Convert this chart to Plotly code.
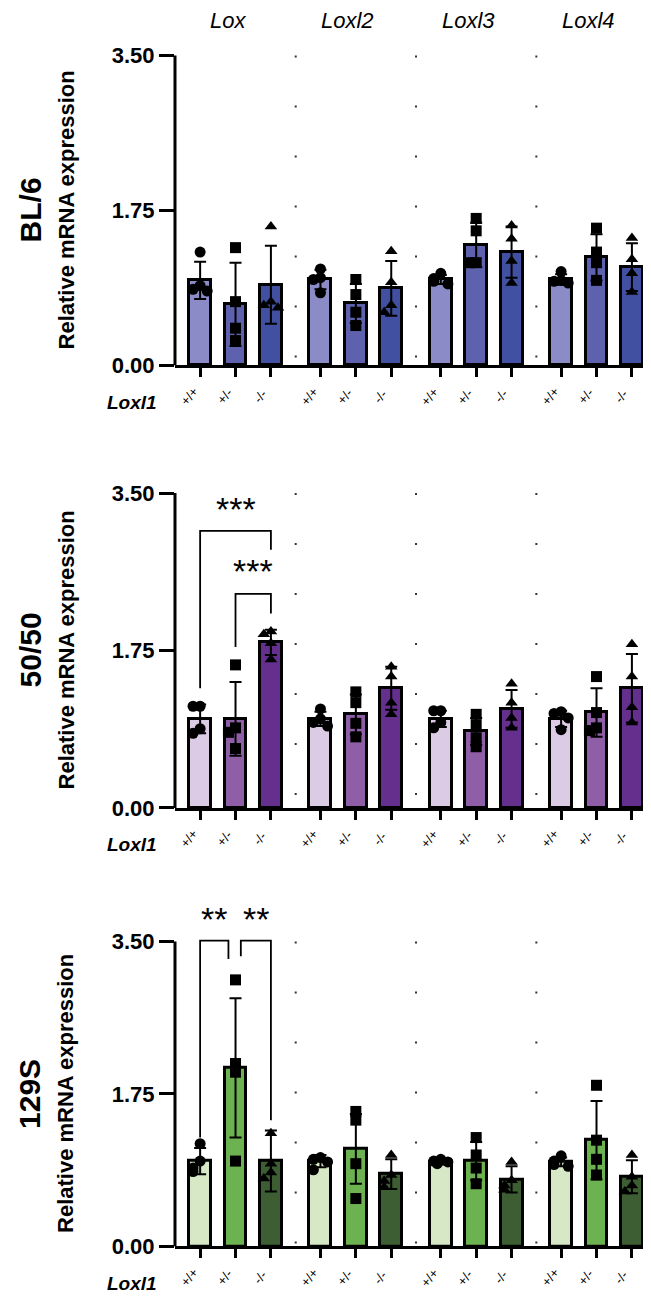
import plotly.graph_objects as go

# ---------------- data ----------------
genes = ["Lox", "Loxl2", "Loxl3", "Loxl4"]
genotypes = ["+/+", "+/-", "-/-"]
strains = ["BL/6", "50/50", "129S"]
y_ticks = [0.0, 1.75, 3.5]
y_ticktext = ["0.00", "1.75", "3.50"]

# order: Lox(+/+,+/-,-/-), Loxl2(...), Loxl3(...), Loxl4(...)
bl6_mean = [0.96, 0.69, 0.91, 0.97, 0.70, 0.87, 0.97, 1.36, 1.28, 0.97, 1.22, 1.11]
bl6_sd = [0.21, 0.47, 0.44, 0.11, 0.22, 0.31, 0.05, 0.25, 0.29, 0.06, 0.26, 0.27]
bl6_points = [
    [1.28, 0.90, 0.86, 0.84], [1.33, 0.72, 0.42, 0.28], [1.57, 0.72, 0.68, 0.65],
    [1.09, 0.99, 0.97, 0.82], [0.97, 0.80, 0.60, 0.45], [1.29, 0.94, 0.68, 0.60],
    [1.04, 0.98, 0.95, 0.92], [1.66, 1.52, 1.16, 1.16], [1.58, 1.43, 1.18, 0.93],
    [1.06, 0.96, 0.95, 0.93], [1.55, 1.28, 1.16, 0.96], [1.44, 1.20, 1.04, 0.83],
]

mix_mean = [0.99, 0.99, 1.84, 0.99, 1.04, 1.33, 0.99, 0.85, 1.10, 0.99, 1.06, 1.33]
mix_sd = [0.16, 0.41, 0.14, 0.08, 0.22, 0.24, 0.09, 0.15, 0.21, 0.09, 0.27, 0.38]
mix_points = [
    [1.13, 1.13, 0.88, 0.83], [1.59, 0.89, 0.84, 0.66], [1.96, 1.93, 1.83, 1.65],
    [1.10, 0.99, 0.95, 0.91], [1.29, 1.17, 0.94, 0.79], [1.57, 1.46, 1.17, 1.04],
    [1.08, 1.08, 0.95, 0.89], [1.04, 0.92, 0.78, 0.68], [1.38, 1.17, 1.00, 0.89],
    [1.07, 1.05, 1.00, 0.87], [1.46, 1.06, 0.89, 0.86], [1.82, 1.46, 1.12, 0.95],
]

s129_mean = [0.98, 2.05, 0.98, 0.98, 1.12, 0.83, 0.97, 0.98, 0.77, 0.97, 1.22, 0.80]
s129_sd = [0.15, 0.80, 0.35, 0.07, 0.40, 0.17, 0.03, 0.22, 0.15, 0.05, 0.45, 0.19]
s129_points = [
    [1.18, 0.98, 0.90, 0.86], [3.06, 2.10, 2.00, 0.98], [1.30, 0.95, 0.85, 0.78],
    [1.02, 1.00, 0.97, 0.88], [1.55, 1.45, 0.95, 0.55], [1.05, 0.82, 0.75, 0.68],
    [1.00, 0.98, 0.97, 0.95], [1.25, 1.05, 0.90, 0.72], [0.97, 0.76, 0.70, 0.65],
    [1.04, 0.98, 0.94, 0.92], [1.85, 1.22, 1.00, 0.82], [1.05, 0.80, 0.70, 0.63],
]

# significance brackets (positions within the Lox group)
mix_sig = [
    dict(x0=0, x1=2, y=3.08, e0=1.33, e1=2.87, label="***", ly=3.29),
    dict(x0=1, x1=2, y=2.38, e0=1.79, e1=2.16, label="***", ly=2.60),
]
s129_sig = [
    dict(x0=0, x1=0.8, y=3.51, e0=1.25, e1=3.30, label="**", ly=3.73),
    dict(x0=1.15, x1=2, y=3.51, e0=3.33, e1=1.45, label="**", ly=3.73),
]

panels = [
    dict(mean=bl6_mean, sd=bl6_sd, pts=bl6_points, sig=[],
         colors=["#8b8cc7", "#5e61ae", "#4150a0"]),
    dict(mean=mix_mean, sd=mix_sd, pts=mix_points, sig=mix_sig,
         colors=["#dccbe4", "#8e5ea6", "#652f8e"]),
    dict(mean=s129_mean, sd=s129_sd, pts=s129_points, sig=s129_sig,
         colors=["#d6e8c6", "#6cb250", "#3c5e32"]),
]

# ---------------- layout geometry ----------------
W, H = 651, 1296
FONT = "Arial, Liberation Sans, sans-serif"
GROUP_STEP = 3.4
positions = [g * GROUP_STEP + b for g in range(len(genes)) for b in range(3)]
X_RANGE = [-0.71, 12.57]
X_DOMAIN = [167 / W, 637 / W]
YMAX = 3.9
panel_px = [(361, 48), (808, 490), (1251, 943)]  # pixel rows of 0.00 and 3.50
symbols = ["circle", "square", "triangle-up"]
jit = [0, -0.2, 0.2, -0.1, 0.1]

fig = go.Figure()
shapes = []
annotations = []

for i, p in enumerate(panels):
    sfx = "" if i == 0 else str(i + 1)
    xa, ya = "x" + sfx, "y" + sfx
    y0px, y35px = panel_px[i]
    s = (y0px - y35px) / 3.5
    top = y0px - YMAX * s
    ydom = [(H - y0px) / H, (H - top) / H]

    for b in range(3):
        idx = [g * 3 + b for g in range(len(genes))]
        fig.add_trace(go.Bar(
            x=[positions[k] for k in idx], y=[p["mean"][k] for k in idx],
            width=0.62, marker=dict(color=p["colors"][b], line=dict(color="black", width=3)),
            error_y=dict(type="data", array=[p["sd"][k] for k in idx], color="black",
                         thickness=2, width=6),
            xaxis=xa, yaxis=ya, showlegend=False))
        px_, py_ = [], []
        for k in idx:
            pts = p["pts"][k]
            for j, v in enumerate(pts):
                near = sum(1 for q in pts[:j] if abs(q - v) < 0.09)
                px_.append(positions[k] + jit[min(near, 4)])
                py_.append(v)
        fig.add_trace(go.Scatter(
            x=px_, y=py_, mode="markers",
            marker=dict(symbol=symbols[b], color="black", size=11),
            xaxis=xa, yaxis=ya, showlegend=False, cliponaxis=False))

    fig.update_layout(**{
        ("xaxis" + sfx): dict(domain=X_DOMAIN, range=X_RANGE, anchor=ya,
                              showline=True, linewidth=3, linecolor="black",
                              ticks="outside", ticklen=9, tickwidth=3, tickcolor="black",
                              tickvals=positions, showticklabels=False,
                              showgrid=False, zeroline=False, fixedrange=True),
        ("yaxis" + sfx): dict(domain=ydom, range=[0, YMAX], anchor=xa,
                              showline=False, ticks="outside", ticklen=15, tickwidth=3,
                              tickcolor="black", tickvals=y_ticks, ticktext=y_ticktext,
                              tickfont=dict(size=22, color="black", family=FONT, weight="bold"),
                              showgrid=False, zeroline=False, fixedrange=True),
    })

    # genotype tick labels (rotated, offset below the ticks)
    for k, xv in enumerate(positions):
        annotations.append(dict(xref=xa, yref=ya, x=xv, y=0, xshift=-11, yshift=-31,
                                text=genotypes[k % 3], textangle=-50, showarrow=False,
                                xanchor="center", yanchor="middle",
                                font=dict(size=13, color="black", family=FONT)))

    # y axis line up to 3.50
    shapes.append(dict(type="line", xref=xa + " domain", yref=ya, x0=0, x1=0, y0=0, y1=3.5,
                       line=dict(color="black", width=3)))
    # dotted separators between gene groups
    for g in range(len(genes) - 1):
        xs = g * GROUP_STEP + 2.7
        shapes.append(dict(type="line", xref=xa, yref=ya, x0=xs, x1=xs, y0=3.5, y1=0,
                           line=dict(color="#333333", width=2, dash="2px,48px"), layer="below"))
    # significance brackets
    for sg in p["sig"]:
        shapes.append(dict(type="path", xref=xa, yref=ya,
                           path=f"M {sg['x0']},{sg['e0']} L {sg['x0']},{sg['y']} L {sg['x1']},{sg['y']} L {sg['x1']},{sg['e1']}",
                           line=dict(color="black", width=1.8)))
        annotations.append(dict(xref=xa, yref=ya, x=(sg["x0"] + sg["x1"]) / 2, y=sg["ly"],
                                text=sg["label"], showarrow=False, yanchor="middle",
                                font=dict(size=34, color="black", family=FONT), yshift=3))

    # labels
    annotations.append(dict(xref="paper", yref=ya, x=22 / W, y=1.75, text=strains[i],
                            textangle=-90, showarrow=False, xanchor="center", yanchor="middle",
                            font=dict(size=30, color="black", family=FONT, weight="bold")))
    annotations.append(dict(xref="paper", yref=ya, x=58 / W, y=1.75, text="Relative mRNA expression",
                            textangle=-90, showarrow=False, xanchor="center", yanchor="middle",
                            font=dict(size=22, color="black", family=FONT, weight="bold")))
    annotations.append(dict(xref="paper", yref=ya, x=151 / W, y=0, yshift=-37, text="Loxl1",
                            showarrow=False, xanchor="right", yanchor="middle",
                            font=dict(size=19, color="black", family=FONT, weight="bold",
                                      style="italic")))

for g, gene in enumerate(genes):
    annotations.append(dict(xref="x", yref="paper", x=g * GROUP_STEP + 1, y=(H - 13) / H,
                            xshift=-8, text=gene, showarrow=False, xanchor="center",
                            yanchor="middle",
                            font=dict(size=22, color="black", family=FONT, style="italic")))

fig.update_layout(width=W, height=H, margin=dict(l=0, r=0, t=0, b=0),
                  paper_bgcolor="white", plot_bgcolor="white", bargap=0,
                  shapes=shapes, annotations=annotations, showlegend=False,
                  font=dict(family=FONT))

fig.write_html("out.html")
